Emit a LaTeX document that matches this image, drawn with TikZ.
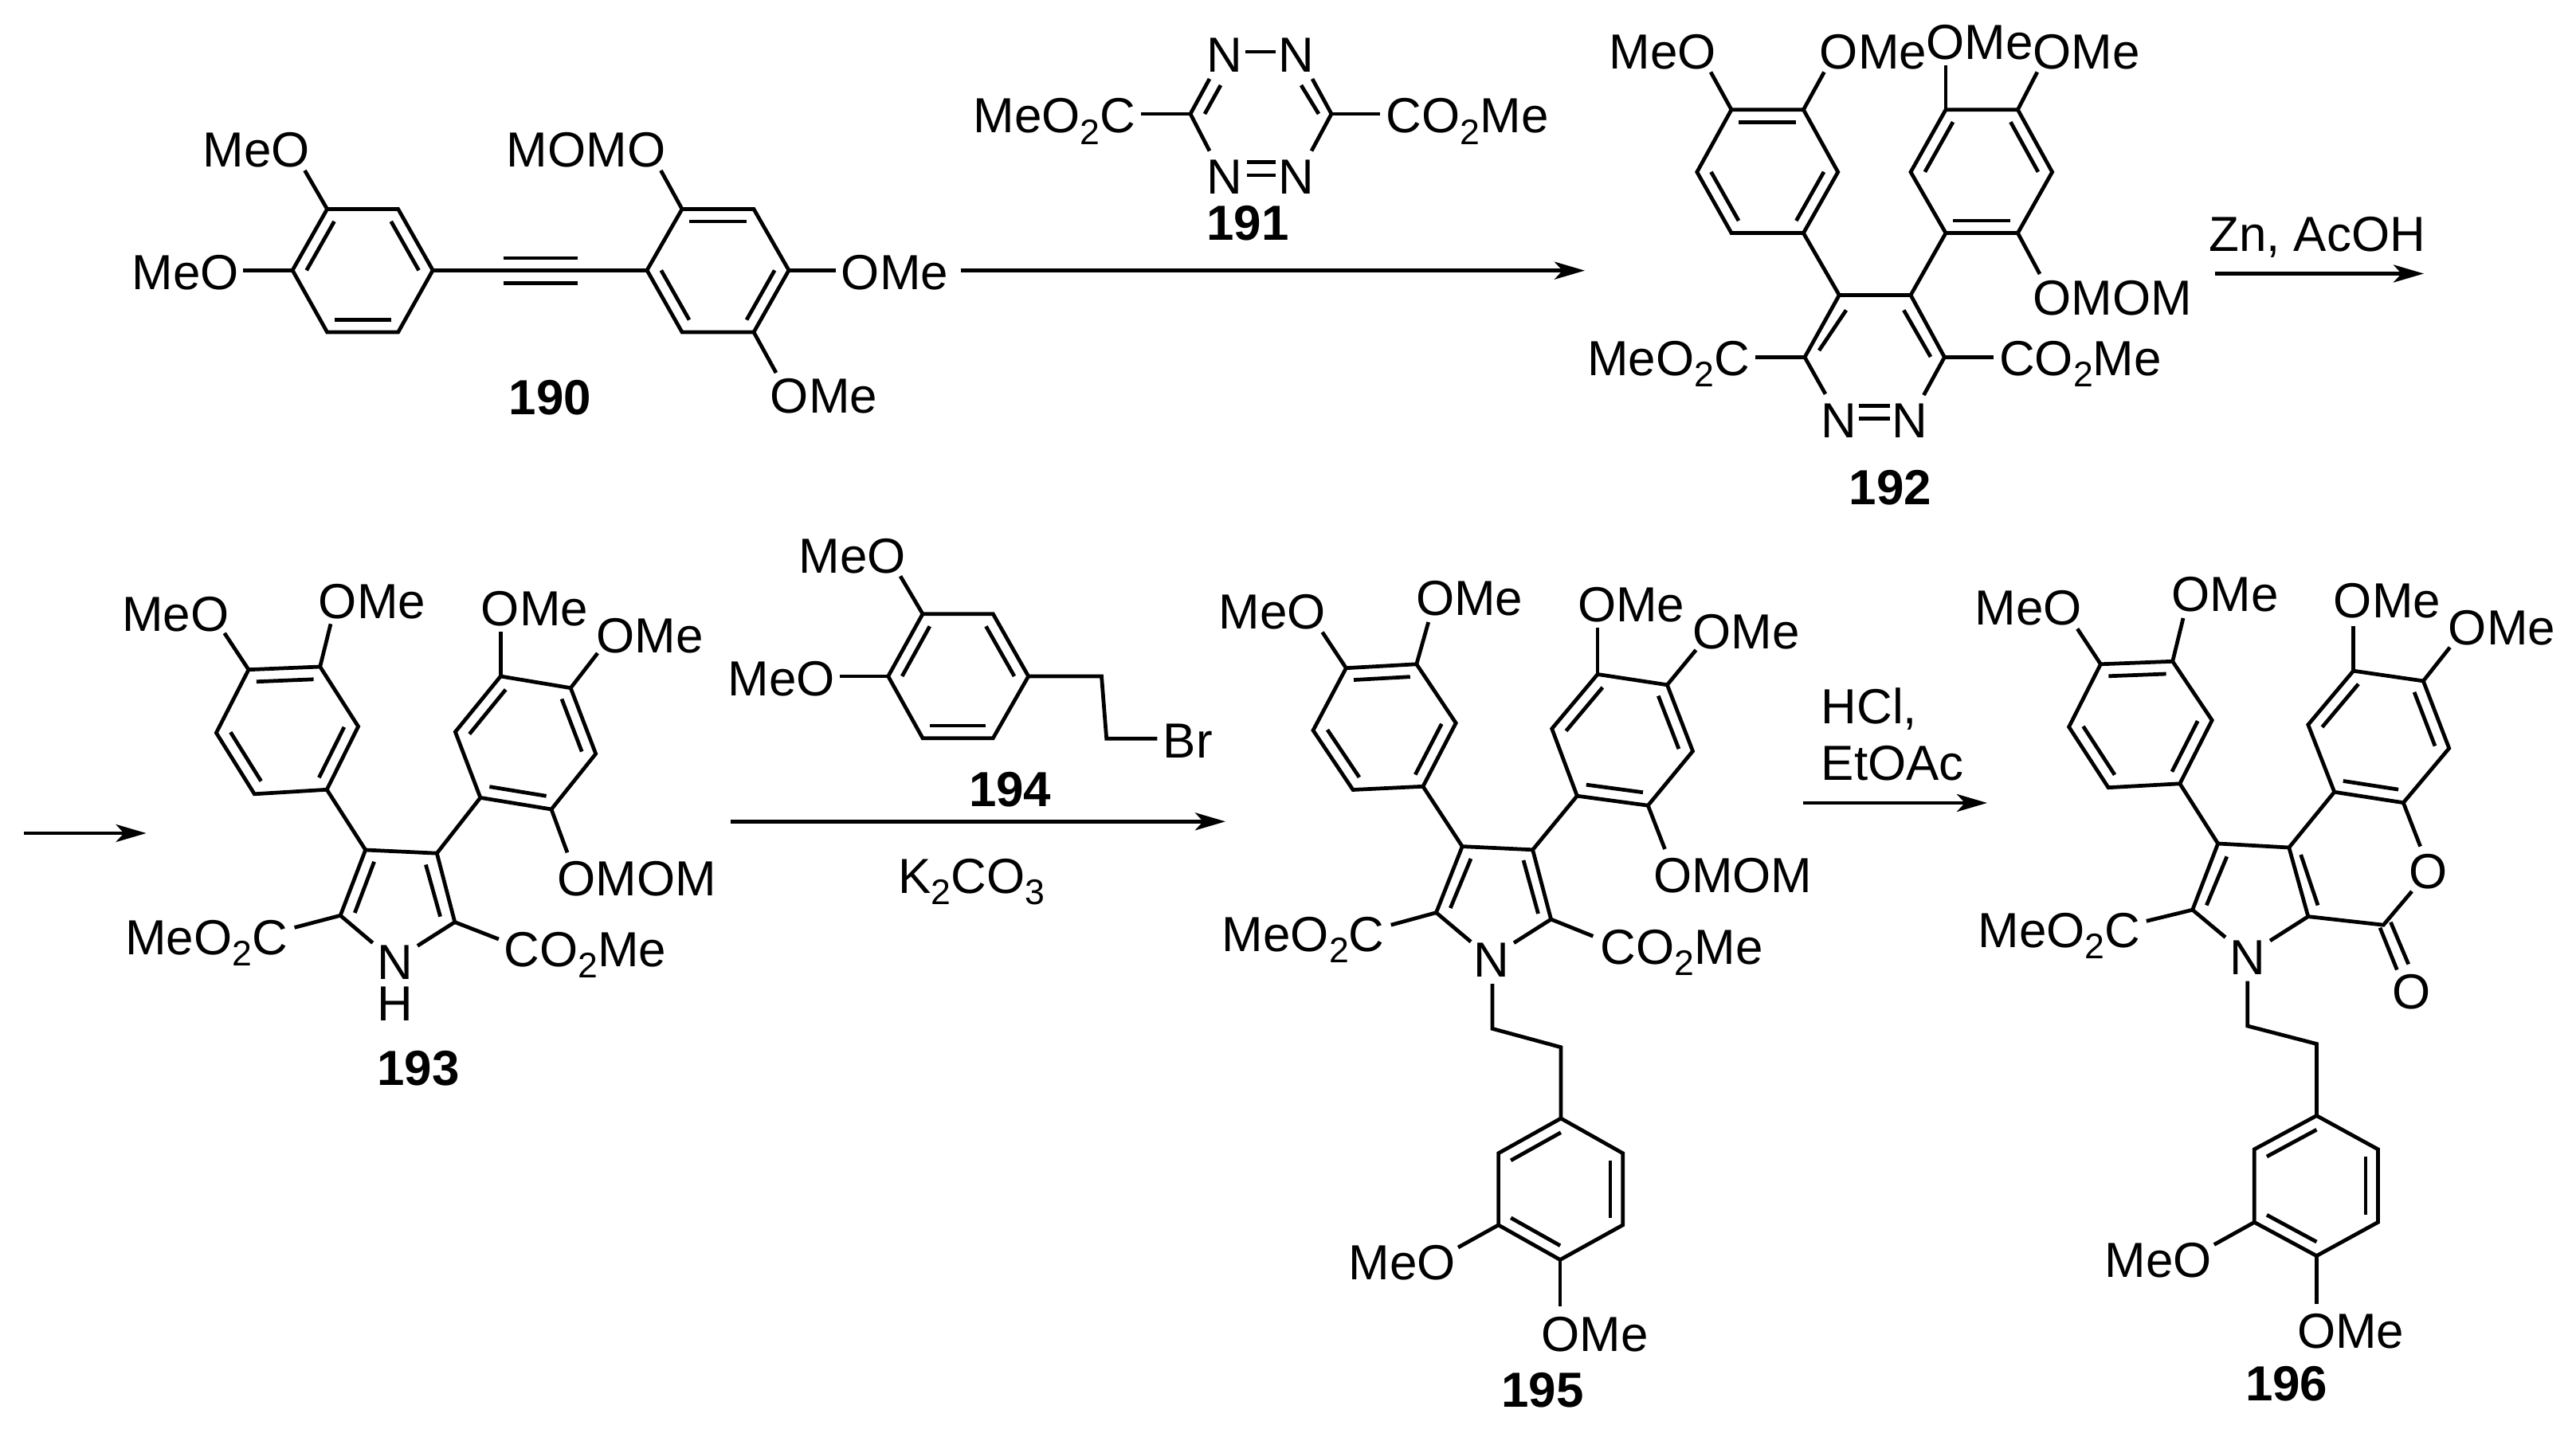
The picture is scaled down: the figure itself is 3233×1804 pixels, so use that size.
\documentclass[tikz,border=0pt]{standalone}
\usepackage{fontspec}
\setmainfont{Liberation Sans}
\usetikzlibrary{calc,arrows.meta}
\tikzset{
  bond/.style={line width=1.35pt},
  lbl/.style={inner sep=0pt,anchor=base,font=\fontsize{17.6}{20}\selectfont},
  txt/.style={inner sep=0pt,anchor=base west,font=\fontsize{17.6}{20}\selectfont},
  cpd/.style={inner sep=0pt,anchor=base,font=\fontsize{17.6}{20}\selectfont\bfseries}
}
\tikzstyle{rxn} = [line width=1.35pt,-{Stealth[length=3.8mm,width=2.2mm,inset=1mm]}]
\newcommand{\subnum}[1]{\raisebox{-.23em}{\fontsize{12.7}{12.7}\selectfont #1}}
\newcommand{\hexring}[7]{
  \coordinate (#1a) at (#2);
  \coordinate (#1b) at (#3);
  \coordinate (#1c) at (#4);
  \coordinate (#1d) at (#5);
  \coordinate (#1e) at (#6);
  \coordinate (#1f) at (#7);
  \coordinate (#1m) at ($(#1a)!.5!(#1d)$);
  \draw[bond] (#1a)--(#1b)--(#1c)--(#1d)--(#1e)--(#1f)--cycle;
}
\newcommand{\inbond}[3]{\draw[bond] ($(#1#2)!.2!(#1m)$)--($(#1#3)!.2!(#1m)$);}
\begin{document}
\begin{tikzpicture}[x=0.01cm,y=-0.01cm]
  \useasboundingbox (0,0) rectangle (3233,1804);

  % 190
  \hexring{A}{410.6,262.5}{499.7,262.5}{543.2,339.3}{499.7,417}{410.6,417}{367.1,339.3}
  \inbond{A}{a}{f}\inbond{A}{b}{c}\inbond{A}{d}{e}
  \hexring{B}{856,262.5}{946,262.5}{990,339.3}{946,417}{856,417}{812,339.3}
  \inbond{B}{a}{b}\inbond{B}{c}{d}\inbond{B}{e}{f}
  \draw[bond] (Ac)--(Bf);
  \draw[bond] (631.6,324)--(725,324);
  \draw[bond] (631.6,355.7)--(725,355.7);
  \draw[bond] (Aa)--(382.5,214);
  \draw[bond] (Af)--(305.4,339.3);
  \draw[bond] (Ba)--(829.4,214);
  \draw[bond] (Bc)--(1049,339.3);
  \draw[bond] (Bd)--(974,468);
  \node[lbl] (meoA) at (322,210) {MeO};
  \node[lbl] (meoB) at (233,363.5) {MeO};
  \node[lbl] (momoA) at (735.5,210) {MOMO};
  \node[lbl] (omeA) at (1123,363.5) {OMe};
  \node[lbl] (omeB) at (1034,519) {OMe};
  \node[cpd] (c190) at (690.5,521) {190};

  \coordinate (r1s) at (1205.5,339.7);
  \coordinate (r1e) at (1989,339.7);
  \draw[rxn] (r1s)--(r1e);

  % 191
  \coordinate (Cl) at (1494,143);
  \coordinate (Cr) at (1671,143);
  \draw[bond] (1518,99)--(Cl)--(1518,189.5);
  \draw[bond] (1647,99)--(Cr)--(1646,189.5);
  \draw[bond] (1532,107)--(1512,143);
  \draw[bond] (1633,107)--(1655,143);
  \draw[bond] (1563,65)--(1601,65);
  \draw[bond] (1565,203.6)--(1601,203.6);
  \draw[bond] (1565,220)--(1601,220);
  \draw[bond] (1432,143)--(Cl);
  \draw[bond] (Cr)--(1732,143);
  \node[lbl] (nA) at (1537,90.5) {N};
  \node[lbl] (nB) at (1627,90.5) {N};
  \node[lbl] (nC) at (1537,244) {N};
  \node[lbl] (nD) at (1627,244) {N};
  \node[lbl] (estA) at (1323.5,167) {MeO\subnum{2}C};
  \node[lbl] (estB) at (1841.6,167) {CO\subnum{2}Me};
  \node[cpd] (c191) at (1566,302) {191};

  % 192
  \hexring{D}{2173,137.7}{2263.4,137.7}{2306.7,216}{2263.4,292.6}{2173,292.6}{2129.8,216}
  \inbond{D}{a}{b}\inbond{D}{c}{d}\inbond{D}{e}{f}
  \hexring{E}{2442,137.7}{2532.4,137.7}{2575.6,216}{2532.4,292.6}{2442,292.6}{2398,216}
  \inbond{E}{a}{f}\inbond{E}{b}{c}\inbond{E}{d}{e}
  \coordinate (Fa) at (2308.3,370.5);
  \coordinate (Fb) at (2398,370.5);
  \coordinate (Fc) at (2440.4,448.4);
  \coordinate (Ff) at (2265,448.4);
  \draw[bond] (2291,494.7)--(Ff)--(Fa)--(Fb)--(Fc)--(2414.4,496);
  \draw[bond] (2317,389.4)--(2283,440);
  \draw[bond] (2389.3,389.4)--(2423,448);
  \draw[bond] (Dd)--(Fa);
  \draw[bond] (Ee)--(Fb);
  \draw[bond] (Ff)--(2203,448.4);
  \draw[bond] (Fc)--(2501.7,448.4);
  \draw[bond] (2332.6,509.4)--(2372,509.4);
  \draw[bond] (2332.6,525.4)--(2372,525.4);
  \draw[bond] (Da)--(2147,90.5);
  \draw[bond] (Db)--(2289.4,90.5);
  \draw[bond] (Ea)--(2442,82);
  \draw[bond] (Eb)--(2556.8,90.5);
  \draw[bond] (Ed)--(2560,344);
  \node[lbl] (meoD) at (2086.5,87) {MeO};
  \node[lbl] (omeD) at (2351,87) {OMe};
  \node[lbl] (omeE) at (2484.5,75) {OMe};
  \node[lbl] (omeF) at (2618.5,87) {OMe};
  \node[lbl] (momD) at (2651.5,395.5) {OMOM};
  \node[lbl] (estD) at (2094,471.5) {MeO\subnum{2}C};
  \node[lbl] (estE) at (2611,471.5) {CO\subnum{2}Me};
  \node[lbl] (nF) at (2308,549.4) {N};
  \node[lbl] (nG) at (2397,549.4) {N};
  \node[cpd] (c192) at (2372.4,633.6) {192};

  \node[lbl] (zn) at (2908,315.5) {Zn, AcOH};
  \coordinate (r2s) at (2780,343.5);
  \coordinate (r2e) at (3042,343.5);
  \draw[rxn] (r2s)--(r2e);
  \coordinate (r3s) at (30,1046);
  \coordinate (r3e) at (183.6,1046);
  \draw[rxn] (r3s)--(r3e);

  % 193
  \hexring{G}{312,840.7}{401.7,837}{449.6,912}{410.2,991.3}{319.3,996.8}{271.4,920}
  \inbond{G}{a}{b}\inbond{G}{c}{d}\inbond{G}{e}{f}
  \hexring{H}{628.3,849}{716.2,863.7}{747.7,946.3}{692,1016}{602.9,1001.4}{571.4,918.8}
  \inbond{H}{a}{f}\inbond{H}{b}{c}\inbond{H}{d}{e}
  \coordinate (Pa) at (458.7,1067);
  \coordinate (Pb) at (548.3,1071.2);
  \coordinate (Pc) at (570.8,1157.6);
  \coordinate (Pe) at (427.2,1149.3);
  \draw[bond] (467.8,1183.7)--(Pe)--(Pa)--(Pb)--(Pc)--(524,1187.4);
  \draw[bond] (469.6,1081.8)--(445.3,1146);
  \draw[bond] (534.4,1085.5)--(552.6,1150.7);
  \draw[bond] (Gd)--(Pa);
  \draw[bond] (He)--(Pb);
  \draw[bond] (Pe)--(369.6,1164.4);
  \draw[bond] (Pc)--(625.9,1179);
  \draw[bond] (Ga)--(281.7,794.8);
  \draw[bond] (Gb)--(415,783.3);
  \draw[bond] (Ha)--(628.3,793.4);
  \draw[bond] (Hb)--(750,820);
  \draw[bond] (Hd)--(712,1070.3);
  \node[lbl] (meoG) at (220.5,793) {MeO};
  \node[lbl] (omeG) at (467,777) {OMe};
  \node[lbl] (omeH) at (671,785.6) {OMe};
  \node[lbl] (omeI) at (815.5,819.6) {OMe};
  \node[lbl] (momG) at (799,1124.5) {OMOM};
  \node[lbl] (estG) at (259,1198) {MeO\subnum{2}C};
  \node[lbl] (estH) at (734.4,1213.6) {CO\subnum{2}Me};
  \node[lbl] (nP) at (496,1229.7) {N};
  \node[lbl] (hP) at (496,1281.5) {H};
  \node[cpd] (c193) at (525,1362.8) {193};

  % 194
  \hexring{I}{1158,770.7}{1246.3,770.7}{1290.7,849}{1246.3,926.7}{1158,926.7}{1114.7,849}
  \inbond{I}{a}{f}\inbond{I}{b}{c}\inbond{I}{d}{e}
  \draw[bond] (Ic)--(1382.5,849)--(1388.7,927.3)--(1452.4,927.3);
  \draw[bond] (Ia)--(1130,723.3);
  \draw[bond] (If)--(1053.5,849);
  \node[lbl] (meoI) at (1070,720) {MeO};
  \node[lbl] (meoJ) at (981,874) {MeO};
  \node[lbl] (brI) at (1490.7,951.7) {Br};
  \node[cpd] (c194) at (1267.7,1012.7) {194};

  \coordinate (r4s) at (916.7,1031.3);
  \coordinate (r4e) at (1538,1031.3);
  \draw[rxn] (r4s)--(r4e);
  \node[lbl] (base) at (1219.3,1121.7) {K\subnum{2}CO\subnum{3}};

  % 195
  \hexring{J}{1689.4,838.7}{1777.8,833.8}{1827.2,907.7}{1785.9,987.3}{1698,991.5}{1648,916.9}
  \inbond{J}{a}{b}\inbond{J}{c}{d}\inbond{J}{e}{f}
  \hexring{K}{2005,846.5}{2092.4,859.8}{2124.5,943}{2068.3,1011.2}{1979.3,999.2}{1947.7,914.8}
  \inbond{K}{a}{f}\inbond{K}{b}{c}\inbond{K}{d}{e}
  \coordinate (Qa) at (1835.2,1062.6);
  \coordinate (Qb) at (1923.6,1066.8);
  \coordinate (Qc) at (1946.6,1154.1);
  \coordinate (Qe) at (1802.5,1145.7);
  \draw[bond] (1846,1182.3)--(Qe)--(Qa)--(Qb)--(Qc)--(1900,1183.7);
  \draw[bond] (1846,1078)--(1820.3,1140);
  \draw[bond] (1912,1080)--(1930.5,1147);
  \draw[bond] (Jd)--(Qa);
  \draw[bond] (Ke)--(Qb);
  \draw[bond] (Qe)--(1745.7,1161.2);
  \draw[bond] (Qc)--(1999.4,1175.3);
  \draw[bond] (Ja)--(1659.6,793.6);
  \draw[bond] (Jb)--(1792.7,781);
  \draw[bond] (Ka)--(2005,788);
  \draw[bond] (Kb)--(2128.5,816);
  \draw[bond] (Kd)--(2089.5,1066);
  \hexring{L}{1959,1404}{2036.7,1447.8}{2036.7,1537.9}{1958,1581.5}{1880.6,1537.9}{1880.6,1447.8}
  \inbond{L}{a}{f}\inbond{L}{b}{c}\inbond{L}{d}{e}
  \draw[bond] (1873,1235)--(1873,1291.4)--(1959,1314.7)--(La);
  \draw[bond] (Le)--(1830,1566);
  \draw[bond] (Ld)--(1958,1640);
  \node[lbl] (meoK) at (1596.7,790) {MeO};
  \node[lbl] (omeK) at (1844.3,772.5) {OMe};
  \node[lbl] (omeL) at (2047.3,781) {OMe};
  \node[lbl] (omeM) at (2191.7,814.8) {OMe};
  \node[lbl] (momK) at (2174.8,1120) {OMOM};
  \node[lbl] (estK) at (1635.8,1194) {MeO\subnum{2}C};
  \node[lbl] (estL) at (2110.8,1210.5) {CO\subnum{2}Me};
  \node[lbl] (nQ) at (1871.7,1226.7) {N};
  \node[lbl] (meoL) at (1760,1606) {MeO};
  \node[lbl] (omeN) at (2001.4,1696) {OMe};
  \node[cpd] (c195) at (1936,1766.7) {195};

  \node[txt] (hcl) at (2285,909) {HCl,};
  \node[txt] (etoac) at (2285,980) {EtOAc};
  \coordinate (r5s) at (2263.4,1008);
  \coordinate (r5e) at (2494,1008);
  \draw[rxn] (r5s)--(r5e);

  % 196
  \hexring{M}{2636.4,833.8}{2726.7,830.3}{2776.2,904.2}{2735.8,983.8}{2646,988.7}{2596.6,912.6}
  \inbond{M}{a}{b}\inbond{M}{c}{d}\inbond{M}{e}{f}
  \hexring{N}{2953.6,842.2}{3041.3,854.9}{3073.7,939.4}{3016.3,1007.7}{2929.7,994.3}{2896.8,909.8}
  \inbond{N}{a}{f}\inbond{N}{b}{c}\inbond{N}{d}{e}
  \coordinate (Ra) at (2783.6,1059);
  \coordinate (Rb) at (2872.8,1064);
  \coordinate (Rc) at (2896.8,1150.6);
  \coordinate (Re) at (2751.7,1142.2);
  \coordinate (Sa) at (2991.3,1161.2);
  \draw[bond] (2793,1176.7)--(Re)--(Ra)--(Rb)--(Rc)--(2849,1181);
  \draw[bond] (2794.8,1075.3)--(2769.3,1136.5);
  \draw[bond] (2887.7,1073)--(2909,1136.5);
  \draw[bond] (Md)--(Ra);
  \draw[bond] (Ne)--(Rb);
  \draw[bond] (Rc)--(Sa)--(3027,1119);
  \draw[bond] (Nd)--(3037.6,1062.6);
  \draw[bond] (2987,1164.7)--(3008.3,1217.5);
  \draw[bond] (3000.4,1157.7)--(3022.7,1210.5);
  \draw[bond] (Re)--(2693.8,1156.3);
  \draw[bond] (Ma)--(2607.2,789.4);
  \draw[bond] (Mb)--(2740,776);
  \draw[bond] (Na)--(2953.6,786);
  \draw[bond] (Nb)--(3074.7,812.7);
  \hexring{O}{2907.4,1400.6}{2984.4,1442.8}{2984.4,1534.4}{2907.4,1576.6}{2829.3,1534.4}{2829.3,1442.8}
  \inbond{O}{a}{f}\inbond{O}{b}{c}\inbond{O}{d}{e}
  \draw[bond] (2820.8,1231.6)--(2820.8,1288)--(2907.4,1310.5)--(Oa);
  \draw[bond] (Oe)--(2778.8,1562.5);
  \draw[bond] (Od)--(2907.4,1636.5);
  \node[lbl] (meoM) at (2545.6,784.5) {MeO};
  \node[lbl] (omeO) at (2792.6,768) {OMe};
  \node[lbl] (omeP) at (2996,775.7) {OMe};
  \node[lbl] (omeQ) at (3140,810) {OMe};
  \node[lbl] (estM) at (2584.6,1189) {MeO\subnum{2}C};
  \node[lbl] (nR) at (2820.5,1223) {N};
  \node[lbl] (oRing) at (3048,1115.4) {O};
  \node[lbl] (oCarb) at (3026.4,1266) {O};
  \node[lbl] (meoN) at (2708.7,1603) {MeO};
  \node[lbl] (omeR) at (2950.3,1692.6) {OMe};
  \node[cpd] (c196) at (2869.7,1758) {196};
\end{tikzpicture}
\end{document}
